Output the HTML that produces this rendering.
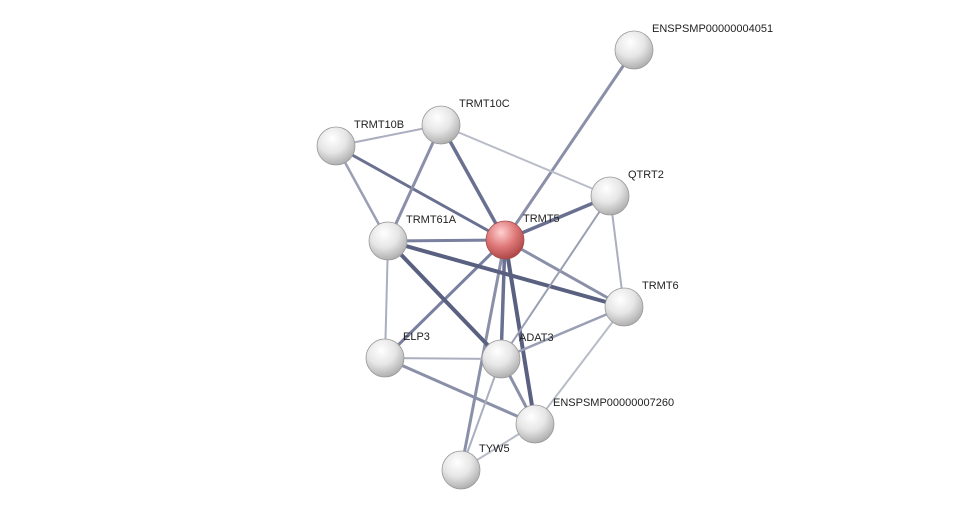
<!DOCTYPE html>
<html><head><meta charset="utf-8"><style>
html,body{margin:0;padding:0;background:#fff;}
svg{display:block;}
text{font-family:"Liberation Sans",Arial,sans-serif;font-size:11px;fill:#222;}
</style></head><body>
<svg width="975" height="515" viewBox="0 0 975 515" xmlns="http://www.w3.org/2000/svg">
<defs>
<radialGradient id="g" cx="0.4" cy="0.3" r="0.75">
<stop offset="0" stop-color="#ffffff"/><stop offset="0.5" stop-color="#e6e6e6"/><stop offset="1" stop-color="#a8a8a8"/>
</radialGradient>
<radialGradient id="r" cx="0.4" cy="0.3" r="0.75">
<stop offset="0" stop-color="#ffd0d0"/><stop offset="0.5" stop-color="#e07a7a"/><stop offset="1" stop-color="#a84040"/>
</radialGradient>
</defs>
<g stroke-linecap="round">
<line x1="505" y1="240" x2="634" y2="50" stroke="#8a90a8" stroke-width="3"/>
<line x1="505" y1="240" x2="441" y2="125" stroke="#6a7090" stroke-width="3.5"/>
<line x1="505" y1="240" x2="336" y2="146" stroke="#6a7090" stroke-width="3"/>
<line x1="505" y1="240" x2="610" y2="196" stroke="#6a7090" stroke-width="3.5"/>
<line x1="505" y1="240" x2="388" y2="241" stroke="#7a80a0" stroke-width="3"/>
<line x1="505" y1="240" x2="624" y2="307" stroke="#8a90a8" stroke-width="3"/>
<line x1="505" y1="240" x2="385" y2="358" stroke="#7a80a0" stroke-width="3"/>
<line x1="505" y1="240" x2="501" y2="359" stroke="#6a7090" stroke-width="3.5"/>
<line x1="505" y1="240" x2="535" y2="424" stroke="#5a6080" stroke-width="4"/>
<line x1="505" y1="240" x2="461" y2="470" stroke="#8a90a8" stroke-width="3"/>
<line x1="441" y1="125" x2="336" y2="146" stroke="#aaaebf" stroke-width="2"/>
<line x1="441" y1="125" x2="610" y2="196" stroke="#b8bcc8" stroke-width="2"/>
<line x1="441" y1="125" x2="388" y2="241" stroke="#8a90a8" stroke-width="3"/>
<line x1="336" y1="146" x2="388" y2="241" stroke="#9a9fb4" stroke-width="2.5"/>
<line x1="388" y1="241" x2="624" y2="307" stroke="#5a6080" stroke-width="4"/>
<line x1="388" y1="241" x2="501" y2="359" stroke="#5a6080" stroke-width="4"/>
<line x1="388" y1="241" x2="385" y2="358" stroke="#aaaebf" stroke-width="2"/>
<line x1="610" y1="196" x2="624" y2="307" stroke="#aaaebf" stroke-width="2"/>
<line x1="610" y1="196" x2="501" y2="359" stroke="#9a9fb4" stroke-width="2"/>
<line x1="624" y1="307" x2="501" y2="359" stroke="#9a9fb4" stroke-width="2.5"/>
<line x1="624" y1="307" x2="535" y2="424" stroke="#b8bcc8" stroke-width="2"/>
<line x1="385" y1="358" x2="501" y2="359" stroke="#aaaebf" stroke-width="2"/>
<line x1="385" y1="358" x2="535" y2="424" stroke="#8a90a8" stroke-width="3"/>
<line x1="501" y1="359" x2="535" y2="424" stroke="#8a90a8" stroke-width="3"/>
<line x1="501" y1="359" x2="461" y2="470" stroke="#aaaebf" stroke-width="2"/>
<line x1="461" y1="470" x2="535" y2="424" stroke="#b8bcc8" stroke-width="2"/>
</g>
<g stroke="#999" stroke-width="0.8">
<circle cx="634" cy="50" r="19" fill="url(#g)"/>
<circle cx="441" cy="125" r="19" fill="url(#g)"/>
<circle cx="336" cy="146" r="19" fill="url(#g)"/>
<circle cx="610" cy="196" r="19" fill="url(#g)"/>
<circle cx="388" cy="241" r="19" fill="url(#g)"/>
<circle cx="624" cy="307" r="19" fill="url(#g)"/>
<circle cx="385" cy="358" r="19" fill="url(#g)"/>
<circle cx="501" cy="359" r="19" fill="url(#g)"/>
<circle cx="535" cy="424" r="19" fill="url(#g)"/>
<circle cx="461" cy="470" r="19" fill="url(#g)"/>
<circle cx="505" cy="240" r="19" fill="url(#r)" stroke="#a05050"/>
</g>
<text x="652" y="32">ENSPSMP00000004051</text>
<text x="459" y="107">TRMT10C</text>
<text x="354" y="128">TRMT10B</text>
<text x="628" y="178">QTRT2</text>
<text x="523" y="222">TRMT5</text>
<text x="406" y="223">TRMT61A</text>
<text x="642" y="289">TRMT6</text>
<text x="403" y="340">ELP3</text>
<text x="519" y="341">ADAT3</text>
<text x="553" y="406">ENSPSMP00000007260</text>
<text x="479" y="452">TYW5</text>
</svg>
</body></html>
